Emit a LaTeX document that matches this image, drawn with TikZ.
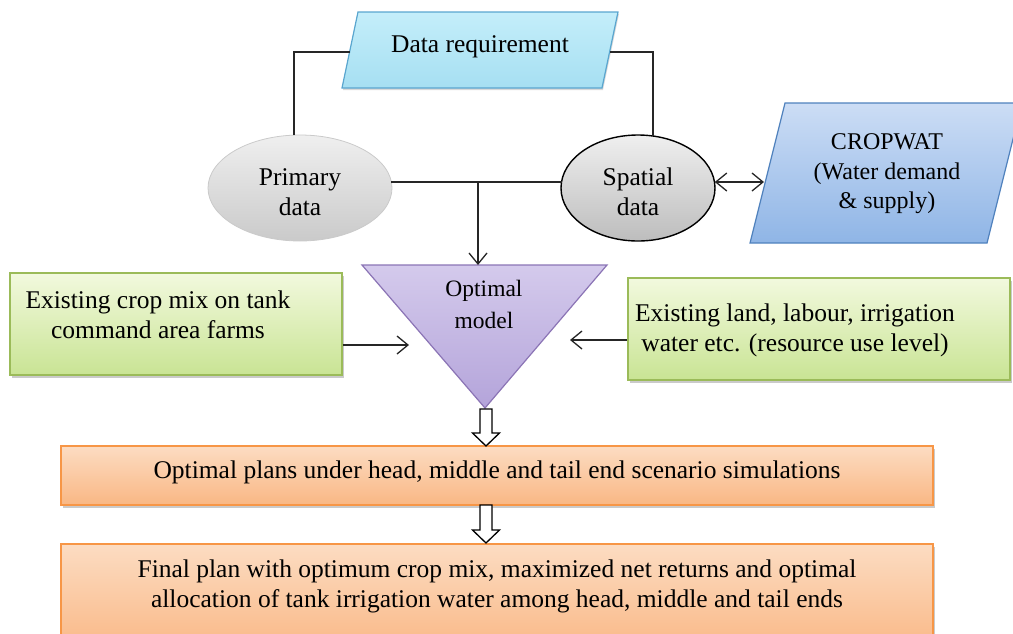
\documentclass[tikz,border=0pt]{standalone}
\usepackage{fontspec}
\setmainfont{Liberation Serif}
\usetikzlibrary{shapes.geometric,arrows.meta,shadows,calc}
\definecolor{drfillA}{HTML}{C4EEFA}
\definecolor{drfillB}{HTML}{A6DFF2}
\definecolor{drline}{HTML}{5AA6CF}
\definecolor{cwA}{HTML}{CCDDF5}
\definecolor{cwB}{HTML}{8FB5E6}
\definecolor{cwline}{HTML}{4F81BD}
\definecolor{triA}{HTML}{D4CAEC}
\definecolor{triB}{HTML}{B4A4DA}
\definecolor{triline}{HTML}{8B74B5}
\definecolor{grA}{HTML}{F2F9DE}
\definecolor{grB}{HTML}{C9E494}
\definecolor{grline}{HTML}{9BBB59}
\definecolor{orA}{HTML}{FCDCC2}
\definecolor{orB}{HTML}{F9B784}
\definecolor{orline}{HTML}{F79646}
\definecolor{gyA}{HTML}{EFEFEF}
\definecolor{gyB}{HTML}{BDBDBD}
\definecolor{gyC}{HTML}{CACACA}
\tikzset{
  conn/.style={line width=1.3pt, draw=black!85},
  arr/.style={conn, -{Straight Barb[length=11pt,width=18pt,line width=1.3pt]}},
  darr/.style={conn, {Straight Barb[length=11pt,width=18pt,line width=1.3pt]}-{Straight Barb[length=11pt,width=18pt,line width=1.3pt]}},
  txt/.style={align=center, inner sep=0pt, font=\fontsize{25.5}{30}\selectfont},
  greenbox/.style={rectangle, draw=grline, line width=1.2pt, top color=grA, bottom color=grB,
     drop shadow={shadow xshift=2pt, shadow yshift=-3pt, opacity=0.35, fill=black!60}},
  orangebox/.style={rectangle, draw=orline, line width=1.2pt, top color=orA, bottom color=orB,
     drop shadow={shadow xshift=2pt, shadow yshift=-3pt, opacity=0.35, fill=black!60}},
  blockarrow/.style={draw=black, line width=1.3pt, fill=white}
}
\begin{document}
\begin{tikzpicture}[x=1pt,y=-1pt]
\useasboundingbox (0,0) rectangle (1013,633);
% Data requirement
\path[draw=drline, line width=1.2pt, top color=drfillA, bottom color=drfillB,
  drop shadow={shadow xshift=1pt, shadow yshift=-2pt, opacity=0.25, fill=black!60}]
  (342,88) -- (358,12) -- (618,12) -- (602,88) -- cycle;
\node[txt] (dr) at (480,47) {Data requirement};
\coordinate (drL) at (350,52);
\coordinate (drR) at (610,52);
% ellipses
\node[ellipse, minimum width=184pt, minimum height=106pt, draw=gyC, line width=0.8pt,
  top color=gyA, bottom color=gyC] (pd) at (300,188) {};
\node[txt] (pdt) at (300,192) {Primary\\data};
\node[ellipse, minimum width=154pt, minimum height=106pt, draw=black, line width=1.4pt,
  top color=gyA, bottom color=gyB] (sd) at (638,188) {};
\node[txt] (sdt) at (638,192) {Spatial\\data};
% CROPWAT
\path[draw=cwline, line width=1.2pt, top color=cwA, bottom color=cwB]
  (750,243) -- (785,103) -- (1022,103) -- (987,243) -- cycle;
\node[txt, font=\fontsize{24}{29.5}\selectfont] (cw) at (887,174) {CROPWAT\\(Water demand\\\& supply)};
\coordinate (cwL) at (764,182);
% triangle
\path[draw=triline, line width=1.2pt, top color=triA, bottom color=triB]
  (362,265) -- (607,265) -- (485,408) -- cycle;
\node[txt, font=\fontsize{23.5}{32}\selectfont] (om) at (484,304) {Optimal\\model};
\coordinate (omT) at (478,265);
\coordinate (omL) at (409,345);
\coordinate (omR) at (570,340);
\coordinate (omB) at (486,409);
% green boxes
\node[greenbox, minimum width=332pt, minimum height=102pt] (lb) at (176,324) {};
\node[txt] (lbt) at (158,315) {Existing crop mix on tank\\command area farms};
\node[greenbox, minimum width=382pt, minimum height=102pt] (rb) at (819,329) {};
\node[txt] (rbt) at (795,330) {Existing land, labour, irrigation\\water etc. (resource use level)};
% orange boxes
\node[orangebox, minimum width=872pt, minimum height=59pt] (ob1) at (497,475.5) {};
\node[txt] (ob1t) at (497,472) {Optimal plans under head, middle and tail end scenario simulations};
\node[orangebox, minimum width=872pt, minimum height=110pt] (ob2) at (497,599) {};
\node[txt] (ob2t) at (497,586) {Final plan with optimum crop mix, maximized net returns and optimal\\allocation of tank irrigation water among head, middle and tail ends};
% connectors
\coordinate (pdE) at ($(pd.center)+(91.4,-6)$);
\coordinate (sdW) at ($(sd.center)+(-76.5,-6)$);
\coordinate (pdN) at ($(pd.center)+(-6,-53)$);
\coordinate (sdN) at ($(sd.center)+(15,-52)$);
\coordinate (sdE) at ($(sd.center)+(76.8,-6)$);
\coordinate (jn) at (478,182);
\draw[conn] (drL) -| (pdN);
\draw[conn] (drR) -| (sdN);
\draw[conn] (pdE) -- (sdW);
\draw[arr] (jn) -- (omT);
\draw[darr] (sdE) -- (cwL);
\draw[arr] (lb.east |- omL) -- (omL);
\draw[arr] (rb.west |- omR) -- (omR);
% block arrows
\path[blockarrow] (480,409) -- (492,409) -- (492,433) -- (499.5,433) -- (486,446) -- (472.5,433) -- (480,433) -- cycle;
\path[blockarrow] (480,505) -- (492,505) -- (492,530) -- (499.5,530) -- (486,543) -- (472.5,530) -- (480,530) -- cycle;
\end{tikzpicture}
\end{document}
